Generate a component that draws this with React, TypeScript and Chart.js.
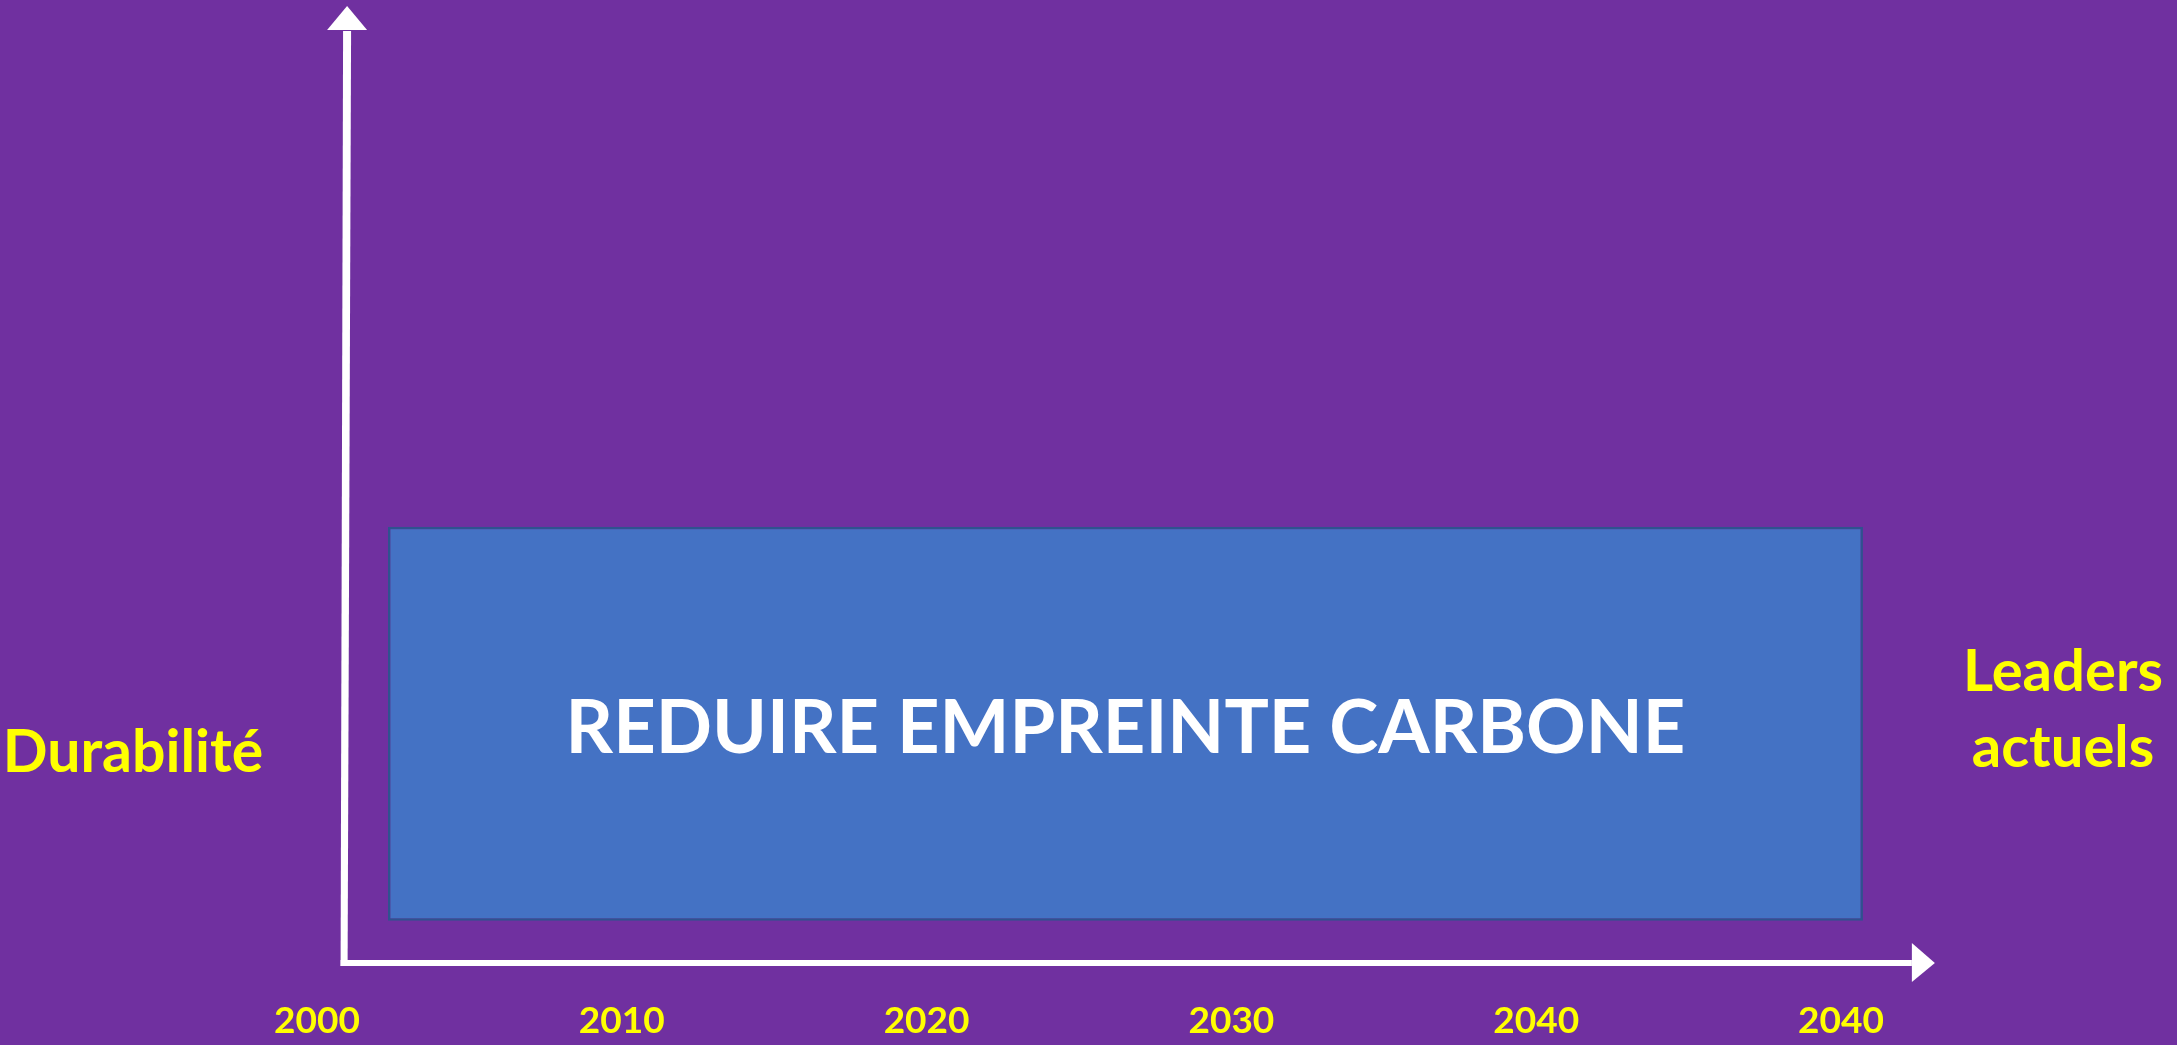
import React, { useEffect, useRef } from "react";
import { Chart, registerables } from "chart.js";

Chart.register(...registerables);

// ---- data ----
const rowLabels = ["", "REDUIRE EMPREINTE CARBONE"];
const barStart: (number | null)[] = [null, 0.233];
const barEnd: (number | null)[] = [null, 5.072];
const tickValues = [0, 1, 2, 3, 4, 5];
const tickLabels = ["2000", "2010", "2020", "2030", "2040", "2040"];
const yAxisTitle = ["Durabilité"];
const xAxisTitle = ["Leaders", "actuels"];

// ---- styles ----
const BG = "#7030A0";
const BAR = "#4472C4";
const BAR_BORDER = "#2F528F";
const YELLOW = "#FFFF00";
const WHITE = "#FFFFFF";
const FONT = "Lato, 'Open Sans', sans-serif";

const W = 2177;
const H = 1045;

const decorPlugin = {
  id: "decor",
  beforeDraw(chart: any) {
    const { ctx } = chart;
    ctx.save();
    ctx.fillStyle = BG;
    ctx.fillRect(0, 0, chart.width, chart.height);
    ctx.restore();
  },
  afterDatasetsDraw(chart: any) {
    const { ctx, chartArea } = chart;
    const xs = chart.scales.x;
    ctx.save();
    // axes with arrows
    const yAxisX = xs.getPixelForValue(0.089);
    const xAxisEndX = xs.getPixelForValue(5.308);
    const bottom = chartArea.bottom;
    const top = chartArea.top;
    ctx.fillStyle = WHITE;
    // vertical shaft (slightly tilted as in the reference)
    ctx.beginPath();
    ctx.moveTo(yAxisX - 3.5, bottom + 3);
    ctx.lineTo(yAxisX + 3.5, bottom + 3);
    ctx.lineTo(yAxisX + 7, top + 25);
    ctx.lineTo(yAxisX - 1, top + 25);
    ctx.closePath();
    ctx.fill();
    // vertical head
    ctx.beginPath();
    ctx.moveTo(yAxisX + 3, top);
    ctx.lineTo(yAxisX + 23, top + 24);
    ctx.lineTo(yAxisX - 17, top + 24);
    ctx.closePath();
    ctx.fill();
    // horizontal shaft
    ctx.fillRect(yAxisX - 3.5, bottom - 3, xAxisEndX - 23 - (yAxisX - 3.5), 6);
    // horizontal head
    ctx.beginPath();
    ctx.moveTo(xAxisEndX, bottom);
    ctx.lineTo(xAxisEndX - 23, bottom - 20);
    ctx.lineTo(xAxisEndX - 23, bottom + 19);
    ctx.closePath();
    ctx.fill();

    // bar label
    const meta = chart.getDatasetMeta(0);
    meta.data.forEach((el: any, i: number) => {
      if (barStart[i] == null) return;
      const cx = (el.x + el.base) / 2;
      ctx.fillStyle = WHITE;
      ctx.font = `bold 74px ${FONT}`;
      ctx.textAlign = "center";
      ctx.textBaseline = "alphabetic";
      ctx.fillText(rowLabels[i], cx, el.y + 29);
    });

    // side titles
    ctx.fillStyle = YELLOW;
    ctx.textAlign = "center";
    ctx.textBaseline = "alphabetic";
    ctx.font = `bold 59px ${FONT}`;
    yAxisTitle.forEach((t, i) => ctx.fillText(t, 133, 772 + i * 76));
    ctx.font = `bold 58px ${FONT}`;
    xAxisTitle.forEach((t, i) => ctx.fillText(t, 2063, 691 + i * 76));
    ctx.restore();
  },
};

export default function App() {
  const ref = useRef<HTMLCanvasElement | null>(null);

  useEffect(() => {
    document.body.style.margin = "0";
    document.body.style.background = BG;
    const canvas = ref.current;
    if (!canvas) return;
    const chart = new Chart(canvas, {
      type: "bar",
      data: {
        labels: rowLabels,
        datasets: [
          {
            data: barStart.map((s, i) => (s == null ? null : [s, barEnd[i] as number])) as any,
            backgroundColor: BAR,
            borderColor: BAR_BORDER,
            borderWidth: 2.5,
            borderSkipped: false,
            barPercentage: 0.8234,
            categoryPercentage: 1,
          },
        ],
      },
      options: {
        indexAxis: "y",
        animation: false,
        responsive: false,
        devicePixelRatio: 1,
        layout: { padding: { top: 6, left: 256, right: 183.6, bottom: 0 } },
        plugins: {
          legend: { display: false },
          tooltip: { enabled: false },
          title: { display: false },
        },
        scales: {
          x: {
            type: "linear",
            min: -0.2,
            max: 5.5,
            grid: { display: false },
            border: { display: false },
            afterBuildTicks: (scale: any) => {
              scale.ticks = tickValues.map((v) => ({ value: v }));
            },
            afterFit: (scale: any) => {
              scale.height = 82;
            },
            ticks: {
              autoSkip: false,
              maxRotation: 0,
              padding: 28,
              color: YELLOW,
              font: { family: FONT, size: 37, weight: "bold", lineHeight: 1.2 },
              callback: (value: any) => {
                const idx = tickValues.indexOf(Number(value));
                return idx >= 0 ? tickLabels[idx] : "";
              },
            },
          },
          y: {
            type: "category",
            display: false,
            grid: { display: false },
          },
        },
      },
      plugins: [decorPlugin],
    } as any);
    return () => chart.destroy();
  }, []);

  return (
    <div
      style={{
        position: "fixed",
        left: 0,
        top: 0,
        width: W,
        height: H,
        background: BG,
        overflow: "hidden",
      }}
    >
      <canvas ref={ref} width={W} height={H} style={{ display: "block", width: W, height: H }} />
    </div>
  );
}
